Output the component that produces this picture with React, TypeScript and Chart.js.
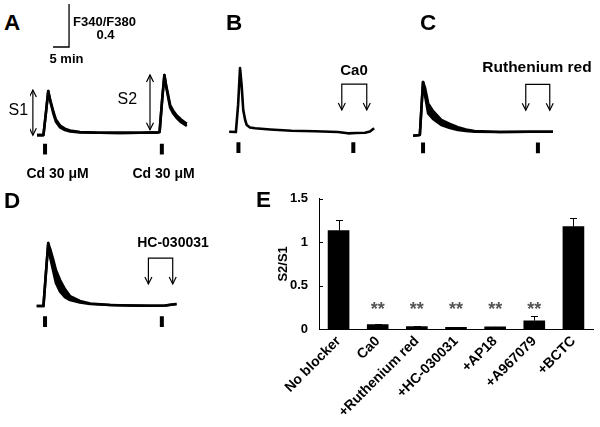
import React, { useEffect, useRef } from "react";
import { Chart, registerables } from "chart.js";

Chart.register(...registerables);

const FONT = "'Liberation Sans', Arial, Helvetica, sans-serif";
Chart.defaults.font.family = FONT;

// ---------- trace units ----------
const PX_PER_MIN = 3.2; // 5 min scale bar = 16 px
const PX_PER_RATIO = 107.5; // 0.4 ratio scale bar = 43 px
const STIM_TOP = -0.1;
const STIM_BOTTOM = -0.2;
const BRACKET_TOP = 0.44;
const BRACKET_TIP = 0.2;
const scaleBarMinutes = 5;
const scaleBarRatio = 0.4;

// ---------- Panel A (time in min, ΔF340/F380) ----------
const aTime = [2.2, 4.2, 5.0, 5.7, 6.3, 7.3, 8.1, 9.4, 10.9, 12.5, 15.6, 21.9, 28.1, 34.4, 40.1, 40.5, 41.3, 42.0, 42.5, 43.8, 44.7, 45.8, 47.2, 49.0];
const aTrace = [-0.02, -0.02, 0.195, 0.39, 0.3, 0.18, 0.105, 0.052, 0.028, 0.015, 0.006, 0.003, 0.001, 0.003, 0.006, 0.01, 0.31, 0.54, 0.44, 0.235, 0.185, 0.142, 0.1, 0.065];
const aTraceUpper = [-0.02, -0.02, 0.195, 0.39, 0.31, 0.2, 0.125, 0.07, 0.04, 0.024, 0.01, 0.003, 0.001, 0.003, 0.006, 0.01, 0.31, 0.54, 0.45, 0.26, 0.21, 0.165, 0.125, 0.085];
const aStimuli = [4.7, 41.2];
const aAmpTimes = [0.9, 37.5];
const aAmpFrom = [-0.02, 0.03];
const aAmpTo = [0.4, 0.54];

// ---------- Panel B ----------
const bTime = [1.3, 3.4, 4.1, 4.7, 5.2, 5.7, 6.3, 6.8, 7.8, 9.4, 14.1, 20.8, 28.1, 35.3, 38.4, 40.9, 43.8, 45.3, 46.6];
const bTrace = [-0.002, -0.005, 0.25, 0.59, 0.43, 0.2, 0.107, 0.06, 0.037, 0.03, 0.019, 0.007, 0.003, -0.005, -0.017, -0.014, -0.011, 0.0, 0.03];
const bStimuli = [4.2, 40.1];
const bBracket = [36.5, 44.3];

// ---------- Panel C ----------
const cTime = [1.6, 3.7, 4.2, 4.7, 5.3, 6.3, 7.8, 10.4, 13.1, 15.6, 18.1, 20.8, 28.8, 38.1, 45.3];
const cTrace = [-0.037, -0.031, 0.22, 0.463, 0.34, 0.17, 0.118, 0.062, 0.034, 0.016, 0.006, 0.0, -0.003, -0.001, 0.0];
const cTraceUpper = [-0.037, -0.031, 0.22, 0.463, 0.41, 0.264, 0.193, 0.109, 0.072, 0.041, 0.02, 0.007, -0.003, -0.001, 0.0];
const cStimuli = [4.7, 40.6];
const cBracket = [36.8, 44.3];

// ---------- Panel D ----------
const dTime = [2.1, 4.2, 5.0, 5.7, 6.3, 7.3, 8.1, 9.4, 10.9, 12.5, 15.6, 18.8, 25.0, 31.3, 37.5, 42.2, 45.8];
const dTrace = [-0.005, -0.005, 0.31, 0.58, 0.45, 0.314, 0.209, 0.128, 0.079, 0.051, 0.028, 0.014, 0.005, 0.0, -0.002, 0.0, 0.014];
const dTraceUpper = [-0.005, -0.005, 0.31, 0.58, 0.526, 0.423, 0.33, 0.237, 0.153, 0.088, 0.042, 0.019, 0.005, 0.0, -0.002, 0.0, 0.014];
const dStimuli = [4.7, 41.2];
const dBracket = [37.0, 44.6];

// ---------- Panel E ----------
const categories = ["No blocker", "Ca0", "+Ruthenium red", "+HC-030031", "+AP18", "+A967079", "+BCTC"];
const ratioMeans = [1.135, 0.05, 0.028, 0.02, 0.025, 0.095, 1.18];
const ratioSem = [0.125, 0.006, 0.004, 0.002, 0.003, 0.05, 0.095];
const significance = ["", "**", "**", "**", "**", "**", ""];
const yTicks = [0, 0.5, 1, 1.5];
const SIG_VALUE = 0.285;

function head(ctx: CanvasRenderingContext2D, x: number, y: number, dir: number) {
  ctx.beginPath();
  ctx.moveTo(x - 3.5, y - dir * 7);
  ctx.lineTo(x, y);
  ctx.lineTo(x + 3.5, y - dir * 7);
  ctx.stroke();
}

function Trace(props: any) {
  const { left, top, width, height, baseline, time, trace, upper, stimuli, bracket, amps, scaleBar } = props;
  const ref = useRef<HTMLCanvasElement | null>(null);
  useEffect(() => {
    const xMax = width / PX_PER_MIN;
    const yMax = (baseline - top) / PX_PER_RATIO;
    const yMin = (baseline - top - height) / PX_PER_RATIO;
    const pts = (ys: number[]) => time.map((t: number, i: number) => ({ x: t, y: ys[i] }));
    const datasets: any[] = [
      { data: pts(trace), borderColor: "#000", borderWidth: 2.6, pointRadius: 0, fill: false, borderJoinStyle: "round" },
    ];
    if (upper) {
      datasets.push({ data: pts(upper), borderColor: "#000", borderWidth: 2.6, pointRadius: 0, fill: "-1", backgroundColor: "#000", borderJoinStyle: "round" });
    }
    stimuli.forEach((s: number) =>
      datasets.push({ data: [{ x: s, y: STIM_TOP }, { x: s, y: STIM_BOTTOM }], borderColor: "#000", borderWidth: 4, borderCapStyle: "butt", pointRadius: 0, fill: false })
    );
    if (scaleBar) {
      datasets.push({
        data: [
          { x: scaleBar.x - scaleBarMinutes, y: scaleBar.y },
          { x: scaleBar.x, y: scaleBar.y },
          { x: scaleBar.x, y: scaleBar.y + scaleBarRatio },
        ],
        borderColor: "#000",
        borderWidth: 1.3,
        pointRadius: 0,
        fill: false,
      });
    }
    const annot = {
      id: "annot",
      afterDatasetsDraw(chart: any) {
        const { ctx } = chart;
        const xs = chart.scales.x;
        const ys = chart.scales.y;
        ctx.save();
        ctx.strokeStyle = "#000";
        ctx.lineWidth = 1.2;
        if (bracket) {
          const x1 = xs.getPixelForValue(bracket[0]);
          const x2 = xs.getPixelForValue(bracket[1]);
          const yt = ys.getPixelForValue(BRACKET_TOP);
          const yb = ys.getPixelForValue(BRACKET_TIP);
          ctx.beginPath();
          ctx.moveTo(x1, yb);
          ctx.lineTo(x1, yt);
          ctx.lineTo(x2, yt);
          ctx.lineTo(x2, yb);
          ctx.stroke();
          head(ctx, x1, yb, 1);
          head(ctx, x2, yb, 1);
        }
        if (amps) {
          amps.times.forEach((t: number, i: number) => {
            const px = xs.getPixelForValue(t);
            const y1 = ys.getPixelForValue(amps.from[i]);
            const y2 = ys.getPixelForValue(amps.to[i]);
            ctx.beginPath();
            ctx.moveTo(px, y1);
            ctx.lineTo(px, y2);
            ctx.stroke();
            head(ctx, px, y1, 1);
            head(ctx, px, y2, -1);
          });
        }
        ctx.restore();
      },
    };
    const chart = new Chart(ref.current as HTMLCanvasElement, {
      type: "line",
      data: { datasets },
      options: {
        responsive: false,
        animation: false,
        devicePixelRatio: 1,
        events: [],
        layout: { padding: 0 },
        plugins: { legend: { display: false }, tooltip: { enabled: false } },
        scales: {
          x: { type: "linear", display: false, min: 0, max: xMax },
          y: { type: "linear", display: false, min: yMin, max: yMax },
        },
      } as any,
      plugins: [annot],
    });
    return () => chart.destroy();
  }, []);
  return <canvas ref={ref} width={width} height={height} style={{ position: "absolute", left, top, width, height }} />;
}

function BarPanel() {
  const ref = useRef<HTMLCanvasElement | null>(null);
  useEffect(() => {
    const extras = {
      id: "extras",
      afterDatasetsDraw(chart: any) {
        const { ctx, chartArea } = chart;
        const ys = chart.scales.y;
        const meta = chart.getDatasetMeta(0);
        ctx.save();
        ctx.strokeStyle = "#000";
        ctx.lineWidth = 1;
        meta.data.forEach((el: any, i: number) => {
          const topPx = Math.round(ys.getPixelForValue(ratioMeans[i] + ratioSem[i])) + 0.5;
          const cx = Math.round(el.x) + 0.5;
          ctx.beginPath();
          ctx.moveTo(cx, el.y);
          ctx.lineTo(cx, topPx);
          ctx.moveTo(cx - 3.5, topPx);
          ctx.lineTo(cx + 3.5, topPx);
          ctx.stroke();
          if (significance[i]) {
            const size = 18;
            ctx.fillStyle = "#555";
            ctx.font = `bold ${size}px ${FONT}`;
            ctx.textAlign = "center";
            ctx.textBaseline = "alphabetic";
            ctx.fillText(significance[i], el.x, ys.getPixelForValue(SIG_VALUE) + 0.57 * size);
          }
        });
        ctx.beginPath();
        yTicks.forEach((v) => {
          const py = Math.round(ys.getPixelForValue(v)) + 0.5;
          ctx.moveTo(chartArea.left, py);
          ctx.lineTo(chartArea.left + 4, py);
        });
        ctx.stroke();
        ctx.restore();
      },
    };
    const bold = { family: FONT, size: 13, weight: "bold" as const };
    const boldX = { family: FONT, size: 14, weight: "bold" as const };
    const chart = new Chart(ref.current as HTMLCanvasElement, {
      type: "bar",
      data: {
        labels: categories,
        datasets: [{ data: ratioMeans, backgroundColor: "#000", borderWidth: 0, barThickness: 21 }],
      },
      options: {
        responsive: false,
        animation: false,
        devicePixelRatio: 1,
        events: [],
        layout: { padding: { top: 13, right: 7, left: 0, bottom: 0 } },
        plugins: { legend: { display: false }, tooltip: { enabled: false } },
        scales: {
          x: {
            grid: { display: false, drawTicks: false },
            border: { display: true, color: "#000", width: 1 },
            ticks: { color: "#000", font: boldX, minRotation: 45, maxRotation: 45, autoSkip: false, padding: 4 },
            afterFit: (s: any) => {
              s.height = 98;
            },
          },
          y: {
            min: 0,
            max: 1.5,
            grid: { display: false, drawTicks: false },
            border: { display: true, color: "#000", width: 1 },
            ticks: { color: "#000", font: bold, padding: 11, callback: (v: any) => String(v) },
            afterBuildTicks: (s: any) => {
              s.ticks = yTicks.map((v) => ({ value: v }));
            },
            title: { display: true, text: "S2/S1", color: "#000", font: bold, padding: { top: 35.7, bottom: 0 } },
            afterFit: (s: any) => {
              s.width = 79;
            },
          },
        },
      } as any,
      plugins: [extras],
    });
    return () => chart.destroy();
  }, []);
  return <canvas ref={ref} width={360} height={247} style={{ position: "absolute", left: 240, top: 180, width: 360, height: 247 }} />;
}

function Label(props: any) {
  const { x, y, text, size, bold = true, align = "left" } = props;
  const style: any = {
    position: "absolute",
    left: x,
    top: y - 0.8465 * size,
    fontFamily: FONT,
    fontSize: size,
    fontWeight: bold ? "bold" : "normal",
    lineHeight: `${size}px`,
    whiteSpace: "nowrap",
    color: "#000",
    transform: align === "center" ? "translateX(-50%)" : undefined,
  };
  return <div style={style}>{text}</div>;
}

export default function App() {
  return (
    <div style={{ position: "absolute", left: 0, top: 0, width: 600, height: 427, background: "#fff", overflow: "hidden" }}>
      <Trace
        left={30}
        top={0}
        width={168}
        height={160}
        baseline={133}
        time={aTime}
        trace={aTrace}
        upper={aTraceUpper}
        stimuli={aStimuli}
        amps={{ times: aAmpTimes, from: aAmpFrom, to: aAmpTo }}
        scaleBar={{ x: 12.2, y: 0.8 }}
      />
      <Trace left={225} top={55} width={155} height={110} baseline={131.5} time={bTime} trace={bTrace} stimuli={bStimuli} bracket={bBracket} />
      <Trace left={408} top={55} width={150} height={110} baseline={131.7} time={cTime} trace={cTrace} upper={cTraceUpper} stimuli={cStimuli} bracket={cBracket} />
      <Trace left={30} top={225} width={155} height={110} baseline={305.5} time={dTime} trace={dTrace} upper={dTraceUpper} stimuli={dStimuli} bracket={dBracket} />
      <BarPanel />

      <Label x={4} y={31} text="A" size={22.5} />
      <Label x={73} y={26} text="F340/F380" size={13} />
      <Label x={105.5} y={39.5} text="0.4" size={13} align="center" />
      <Label x={66.5} y={63} text="5 min" size={13} align="center" />
      <Label x={8.5} y={116} text="S1" size={16} bold={false} />
      <Label x={117.5} y={105} text="S2" size={16} bold={false} />
      <Label x={57.5} y={178} text="Cd 30 μM" size={14} align="center" />
      <Label x={163.5} y={178} text="Cd 30 μM" size={14} align="center" />

      <Label x={226} y={31} text="B" size={22.5} />
      <Label x={354} y={75} text="Ca0" size={15} align="center" />

      <Label x={420} y={31} text="C" size={22.5} />
      <Label x={537} y={72} text="Ruthenium red" size={15.5} align="center" />

      <Label x={4} y={209} text="D" size={22.5} />
      <Label x={173} y={247} text="HC-030031" size={14} align="center" />

      <Label x={256} y={208} text="E" size={22.5} />
    </div>
  );
}
